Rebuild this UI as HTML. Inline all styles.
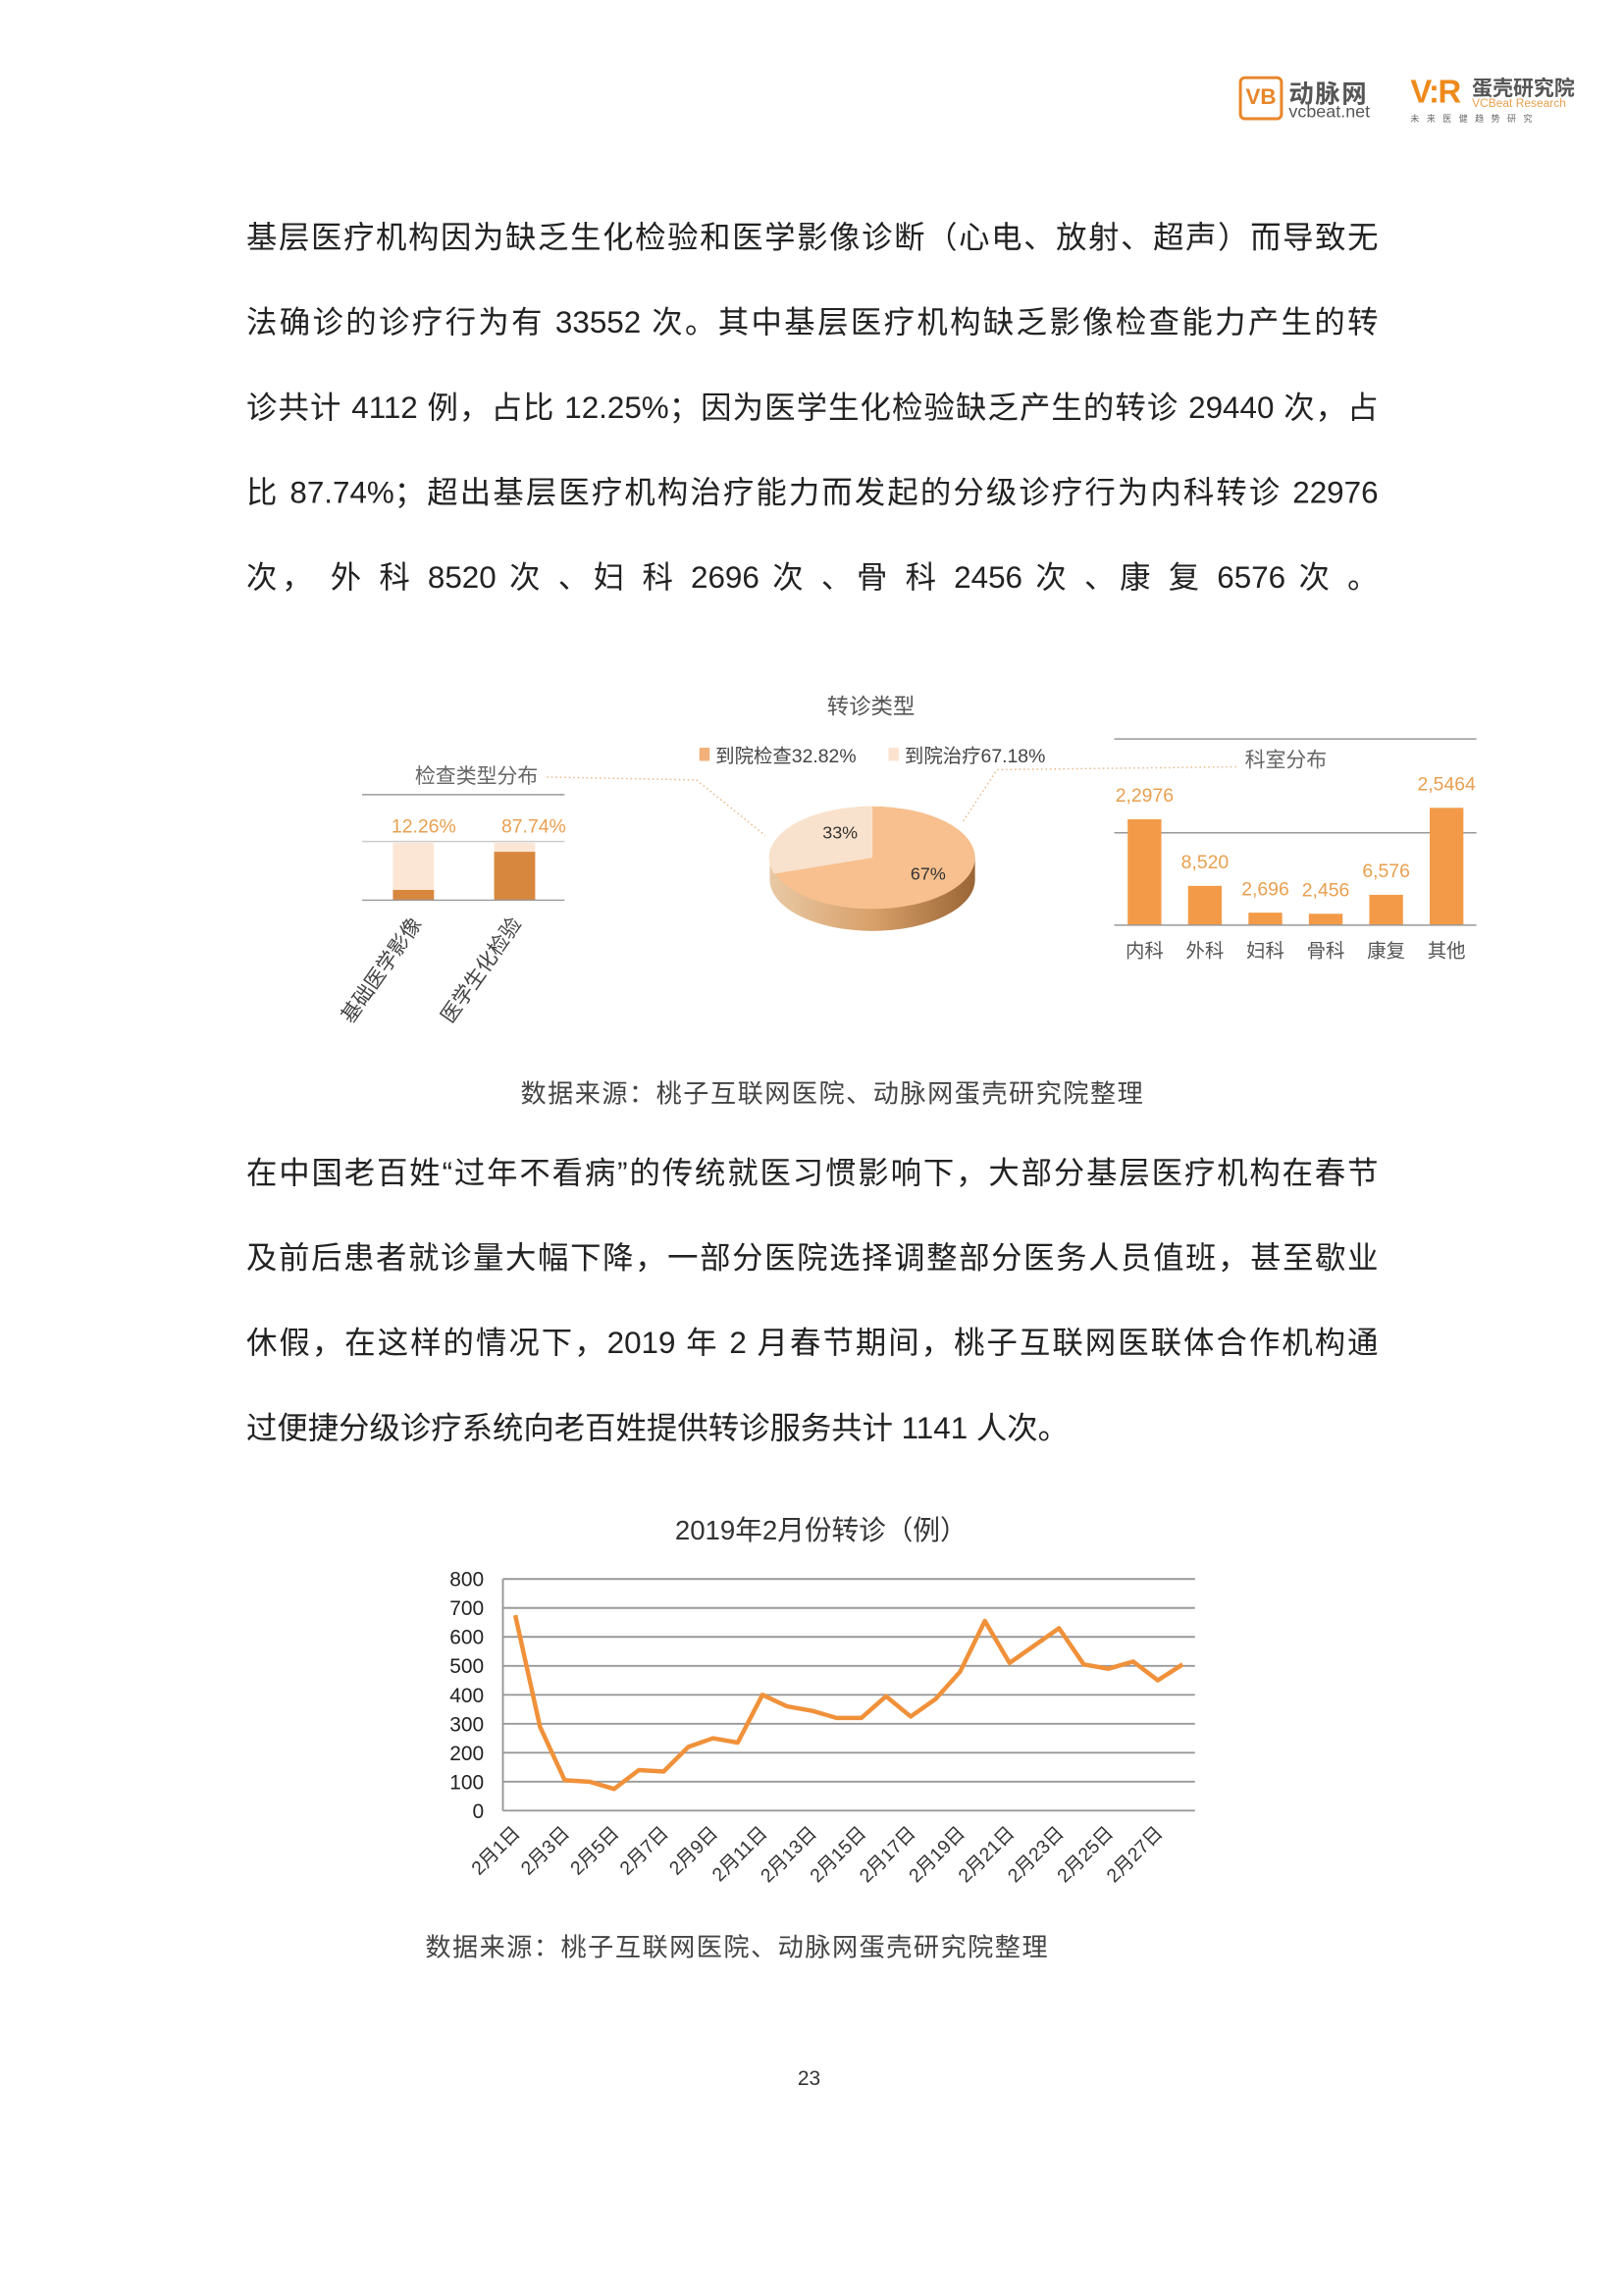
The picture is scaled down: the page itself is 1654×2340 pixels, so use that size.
<!DOCTYPE html>
<html><head><meta charset="utf-8">
<style>
html,body{margin:0;padding:0;background:#fff;}
body{width:1654px;height:2339px;overflow:hidden;position:relative;}
#pg{position:absolute;left:0;top:0;width:1110px;height:1566px;transform:scale(1.4942);transform-origin:0 0;font-family:"Liberation Sans","Noto Sans CJK SC",sans-serif;color:#222;}
.ln{position:absolute;left:168px;width:772px;font-size:21px;line-height:26px;text-align:justify;text-align-last:justify;white-space:nowrap;}
.abs{position:absolute;}
.src{position:absolute;font-size:17.5px;letter-spacing:1px;color:#444;white-space:nowrap;}
</style></head><body>
<div id="pg">

<div class="abs" style="left:845px;top:50px;width:100px;height:34px;">
 <div class="abs" style="left:0;top:2px;width:26px;height:26px;border:2px solid #e8862a;border-radius:4px;color:#e8862a;font-weight:bold;font-size:15px;line-height:26px;text-align:center;">VB</div>
 <div class="abs" style="left:34px;top:0;font-size:17px;font-weight:bold;color:#555;letter-spacing:1px;white-space:nowrap;">动脉网</div>
 <div class="abs" style="left:34px;top:19px;font-size:12px;color:#555;">vcbeat.net</div>
</div>
<div class="abs" style="left:962px;top:50px;width:125px;height:34px;">
 <div class="abs" style="left:0;top:0;font-size:22px;font-weight:bold;color:#ee8a1c;letter-spacing:-1px;">V:R</div>
 <div class="abs" style="left:42px;top:0;font-size:14px;font-weight:bold;color:#555;white-space:nowrap;">蛋壳研究院</div>
 <div class="abs" style="left:42px;top:16px;font-size:8px;color:#e8a050;white-space:nowrap;">VCBeat Research</div>
 <div class="abs" style="left:0;top:26px;font-size:6px;color:#666;letter-spacing:5px;white-space:nowrap;">未来医健趋势研究</div>
</div>

<div>
<div class="ln" style="top:150px;">基层医疗机构因为缺乏生化检验和医学影像诊断（心电、放射、超声）而导致无</div>
<div class="ln" style="top:208px;">法确诊的诊疗行为有 33552 次。其中基层医疗机构缺乏影像检查能力产生的转</div>
<div class="ln" style="top:266px;">诊共计 4112 例，占比 12.25%；因为医学生化检验缺乏产生的转诊 29440 次，占</div>
<div class="ln" style="top:324px;">比 87.74%；超出基层医疗机构治疗能力而发起的分级诊疗行为内科转诊 22976</div>
<div class="ln" style="top:382px;">次， 外 科 8520 次 、妇 科 2696 次 、骨 科 2456 次 、康 复 6576 次 。</div>
</div>

<svg class="abs" style="left:0;top:0" width="1100" height="760" font-family="Liberation Sans, Noto Sans CJK SC, sans-serif">
 <defs>
  <linearGradient id="side" x1="0" x2="1" y1="0" y2="0">
   <stop offset="0" stop-color="#e9c9a5"/><stop offset="0.5" stop-color="#d8a06a"/><stop offset="1" stop-color="#9a6535"/>
  </linearGradient>
 </defs>
 <text x="594" y="487" text-anchor="middle" font-size="15" fill="#555">转诊类型</text>
 <rect x="477" y="510" width="7" height="9" fill="#f2b07a"/>
 <text x="488" y="520" font-size="13" fill="#444">到院检查32.82%</text>
 <rect x="606" y="510" width="7" height="9" fill="#fbe3d0"/>
 <text x="617" y="520" font-size="13" fill="#444">到院治疗67.18%</text>
 <path d="M525,585 L525,600 A70,35 0 0,0 665,600 L665,585 Z" fill="url(#side)"/>
 <ellipse cx="595" cy="585" rx="70" ry="35" fill="#f7c08e"/>
 <path d="M595,585 L595,550 A70,35 0 0,0 528,596 Z" fill="#f9e2cd"/>
 <text x="573" y="572" text-anchor="middle" font-size="12" fill="#333">33%</text>
 <text x="633" y="600" text-anchor="middle" font-size="12" fill="#333">67%</text>
 <polyline points="373,530 475,532 522,570" fill="none" stroke="#e8b888" stroke-dasharray="1,2"/>
 <polyline points="657,560 680,525 845,523" fill="none" stroke="#e8b888" stroke-dasharray="1,2"/>
 <text x="325" y="534" text-anchor="middle" font-size="14" fill="#666">检查类型分布</text>
 <line x1="247" y1="542" x2="385" y2="542" stroke="#999"/>
 <text x="289" y="568" text-anchor="middle" font-size="13" fill="#e8a050">12.26%</text>
 <text x="364" y="568" text-anchor="middle" font-size="13" fill="#e8a050">87.74%</text>
 <line x1="247" y1="574" x2="385" y2="574" stroke="#ccc"/>
 <rect x="268" y="575" width="28" height="39" fill="#fbe6d6"/>
 <rect x="268" y="607" width="28" height="7" fill="#d8873e"/>
 <rect x="337" y="575" width="28" height="39" fill="#fbe6d6"/>
 <rect x="337" y="581" width="28" height="33" fill="#d8873e"/>
 <line x1="247" y1="614" x2="385" y2="614" stroke="#999"/>
 <text transform="translate(288,630) rotate(-55)" text-anchor="end" font-size="14" fill="#444">基础医学影像</text>
 <text transform="translate(356,630) rotate(-55)" text-anchor="end" font-size="14" fill="#444">医学生化检验</text>
 <line x1="760" y1="504" x2="1007" y2="504" stroke="#999"/>
 <text x="877" y="523" text-anchor="middle" font-size="14" fill="#666">科室分布</text>
 <line x1="760" y1="568" x2="1007" y2="568" stroke="#999"/>
 <g id="deptBars"></g>
 <line x1="760" y1="631" x2="1007" y2="631" stroke="#999"/>
</svg>

<div class="src" style="left:355px;top:733px;">数据来源：桃子互联网医院、动脉网蛋壳研究院整理</div>

<div>
<div class="ln" style="top:788px;">在中国老百姓“过年不看病”的传统就医习惯影响下，大部分基层医疗机构在春节</div>
<div class="ln" style="top:846px;">及前后患者就诊量大幅下降，一部分医院选择调整部分医务人员值班，甚至歇业</div>
<div class="ln" style="top:904px;">休假，在这样的情况下，2019 年 2 月春节期间，桃子互联网医联体合作机构通</div>
<div class="ln" style="top:962px;text-align-last:left;width:auto;">过便捷分级诊疗系统向老百姓提供转诊服务共计 1141 人次。</div>
</div>

<svg class="abs" style="left:0;top:1020px" width="1100" height="300" id="lc" font-family="Liberation Sans, Noto Sans CJK SC, sans-serif">
 <text x="560" y="30" text-anchor="middle" font-size="18.5" fill="#333">2019年2月份转诊（例）</text>
</svg>

<div class="src" style="left:290px;top:1315px;">数据来源：桃子互联网医院、动脉网蛋壳研究院整理</div>
<div class="abs" style="left:544px;top:1409px;font-size:14px;color:#333;">23</div>
</div>

<script>
var NS="http://www.w3.org/2000/svg";
var deptCats=["内科","外科","妇科","骨科","康复","其他"];
var deptVals=[22976,8520,2696,2456,6576,25464];
var deptLabels=["2,2976","8,520","2,696","2,456","6,576","2,5464"];
(function(){
 var g=document.getElementById('deptBars');
 var base=631,k=80/25464,x0=760,band=41.2,bw=23;
 function el(t,a){var e=document.createElementNS(NS,t);for(var i in a)e.setAttribute(i,a[i]);g.appendChild(e);return e;}
 deptCats.forEach(function(c,i){
  var cx=x0+band*(i+0.5), h=deptVals[i]*k;
  var r=el('rect',{x:cx-bw/2,y:base-h,width:bw,height:h,fill:'#f39a48'});
  
  
  var t=el('text',{x:cx,y:base-h-12,'text-anchor':'middle','font-size':13,fill:'#e8a050'});t.textContent=deptLabels[i];
  
  
  var l=el('text',{x:cx,y:653,'text-anchor':'middle','font-size':13,fill:'#555'});l.textContent=c;
  
  
 });
})();
var days=[];for(var d=1;d<=28;d++)days.push("2月"+d+"日");
var counts=[675,290,105,100,75,140,135,220,250,235,400,360,345,320,320,395,325,385,480,655,510,570,630,505,490,515,450,505];
var yTicks=[0,100,200,300,400,500,600,700,800];
(function(){
 var s=document.getElementById('lc');
 var L=343,R=815,Y0=215,Y800=57;
 function y(v){return Y0-(v/800)*(Y0-Y800);}
 var band=(R-L)/days.length;
 function x(i){return L+band*(i+0.5);}
 function el(t,a){var e=document.createElementNS(NS,t);for(var i in a)e.setAttribute(i,a[i]);s.appendChild(e);return e;}
 yTicks.forEach(function(v){
  var ln=el('line',{x1:L,x2:R,y1:y(v),y2:y(v),stroke:'#999','stroke-width':1.3});
  
  
  var t=el('text',{x:330,y:y(v)+5,'text-anchor':'end','font-size':14,fill:'#222'});t.textContent=v;
  
  
 });
 var ax=el('line',{x1:L,x2:L,y1:Y800,y2:Y0,stroke:'#999','stroke-width':1.3});
 
 
 var pts=counts.map(function(v,i){return x(i)+','+y(v);}).join(' ');
 var pl=el('polyline',{points:pts,fill:'none',stroke:'#f0913a','stroke-width':3,'stroke-linejoin':'round'});
 
 
 days.forEach(function(dl,i){
  if(i%2)return;
  var t=el('text',{transform:'translate('+(x(i)+4)+','+(Y0+16)+') rotate(-45)','text-anchor':'end','font-size':13,fill:'#333'});
  t.textContent=dl;
  
  
 });
})();
</script>
</body></html>
